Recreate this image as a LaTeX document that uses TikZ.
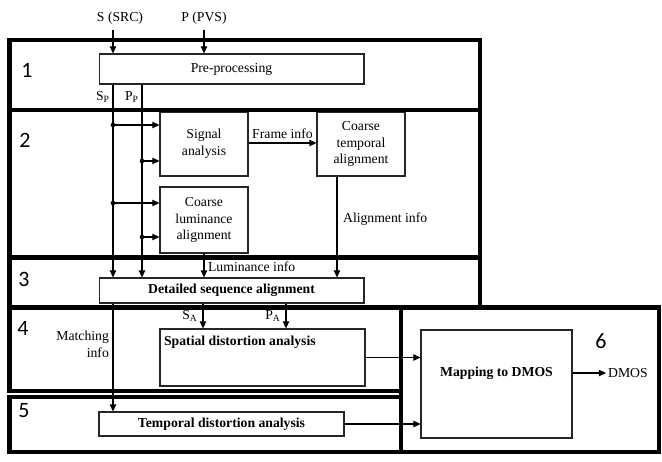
\documentclass[tikz,border=0pt]{standalone}
\usepackage{fontspec}
\setmainfont{Liberation Serif}
\newfontfamily\numfont{Carlito}
\usepackage{tikz}
\usetikzlibrary{arrows.meta, positioning}

\tikzset{
  block/.style={draw=black!85, line width=0.6pt, fill=white, inner sep=0pt, align=center},
  frame/.style={line width=2.7pt},
  flow/.style={line width=0.6pt, ->},
  tag/.style={inner sep=1pt},
  num/.style={font=\numfont\fontsize{12.5}{14}\selectfont}
}

\begin{document}
\begin{tikzpicture}[x=0.02cm, y=-0.02cm, >={Triangle[length=4pt,width=3.6pt]},
                    font=\fontsize{7.8}{9.6}\selectfont]
  \useasboundingbox (0,0) rectangle (662,462);

  % Define key coordinates (signal columns)
  \coordinate (sx) at (113,0);   % S line
  \coordinate (px) at (142,0);   % P line
  \coordinate (ax) at (337,0);   % alignment info line

  % Processing blocks
  \node[block, minimum width=5.3cm, minimum height=0.6cm] (pre) at (231.5,69) {Pre-processing};
  \node[block, minimum width=1.76cm, minimum height=1.28cm] (sig) at (204,144) {Signal\\analysis};
  \node[block, minimum width=1.76cm, minimum height=1.28cm] (ctemp) at (361,144) {Coarse\\temporal\\alignment};
  \node[block, minimum width=1.76cm, minimum height=1.32cm] (clum) at (204,220) {Coarse\\luminance\\alignment};
  \node[block, minimum width=5.3cm, minimum height=0.5cm] (detail) at (231.5,290.5) {\bfseries Detailed sequence alignment};
  \node[block, minimum width=4.1cm, minimum height=1.14cm] (spatial) at (262.5,357.5) {};
  \node[tag, anchor=west] (spatialtxt) at (162,342) {\bfseries Spatial distortion analysis};
  \node[block, minimum width=4.9cm, minimum height=0.48cm] (tempd) at (221.5,424) {\bfseries Temporal distortion analysis};
  \node[block, minimum width=3.02cm, minimum height=2.16cm] (map) at (496.5,384) {};
  \node[tag] (maptxt) at (496.5,373) {\bfseries Mapping to DMOS};

  % Inputs and output
  \node (src) at (120,18) {S (SRC)};
  \node (pvs) at (204,18) {P (PVS)};
  \node[tag, anchor=west] (dmos) at (606,373) {DMOS};

  \draw[flow] (src.south -| sx) -- (pre.north -| sx);
  \draw[flow] (pvs.south) -- (pre.north -| pvs);
  \node[tag] (sp) at (103,97) {S\textsubscript{P}};
  \node[tag] (pp) at (132,97) {P\textsubscript{P}};

  % --- S and P lines into the alignment stage ---
  \draw[flow] (pre.south -| sx) -- (detail.north -| sx);
  \draw[flow] (pre.south -| px) -- (detail.north -| px);
  \foreach \y/\b in {125/sig, 203/clum} {
    \fill (113,\y) circle (1.3pt);
    \draw[flow] (113,\y) -- (\b.west |- 113,\y);
  }
  \foreach \y/\b in {161/sig, 237/clum} {
    \fill (142,\y) circle (1.3pt);
    \draw[flow] (142,\y) -- (\b.west |- 142,\y);
  }

  \draw[flow] (sig.east |- 0,143) -- (ctemp.west |- 0,143) node[tag, midway, above=1pt] (frinfo) {Frame info};
  \draw[flow] (ctemp.south -| ax) -- (detail.north -| ax);
  \node[tag, anchor=west] (alinfo) at (341,219) {Alignment info};
  \draw[flow] (clum.south) -- (clum.south |- detail.north);
  \node[tag, anchor=west] (luinfo) at (206,267) {Luminance info};

  % --- Detailed alignment outputs ---
  \draw[flow] (detail.south -| 203,0) -- (spatial.north -| 203,0);
  \draw[flow] (detail.south -| 286,0) -- (spatial.north -| 286,0);
  \node[tag] (sa) at (190,316) {S\textsubscript{A}};
  \node[tag] (pa) at (273,316) {P\textsubscript{A}};
  \draw[flow] (detail.south -| sx) -- (tempd.north -| sx);
  \node[tag, anchor=east, align=right] (mtinfo) at (111,344) {Matching\\info};

  \draw[flow] (spatial.east) -- (spatial.east -| map.west);
  \draw[flow] (tempd.east) -- (tempd.east -| map.west);
  \draw[flow] (map.east |- dmos) -- (dmos.west);

  % Stage frames
  \draw[frame] (9.5,40) rectangle (480,110);
  \draw[frame] (9.5,110) rectangle (480,257.5);
  \draw[frame] (9.5,257.5) rectangle (480,307.5);
  \draw[frame] (9.5,307.5) rectangle (401,391);
  \draw[frame] (9.5,397) rectangle (401,452);
  \draw[frame] (401,307.5) rectangle (659,452);

  \node[num] (n1) at (27,70) {1};
  \node[num] (n2) at (25,140) {2};
  \node[num] (n3) at (24,279) {3};
  \node[num] (n4) at (23,328) {4};
  \node[num] (n5) at (24,411) {5};
  \node[num] (n6) at (601,341) {6};
\end{tikzpicture}
\end{document}
